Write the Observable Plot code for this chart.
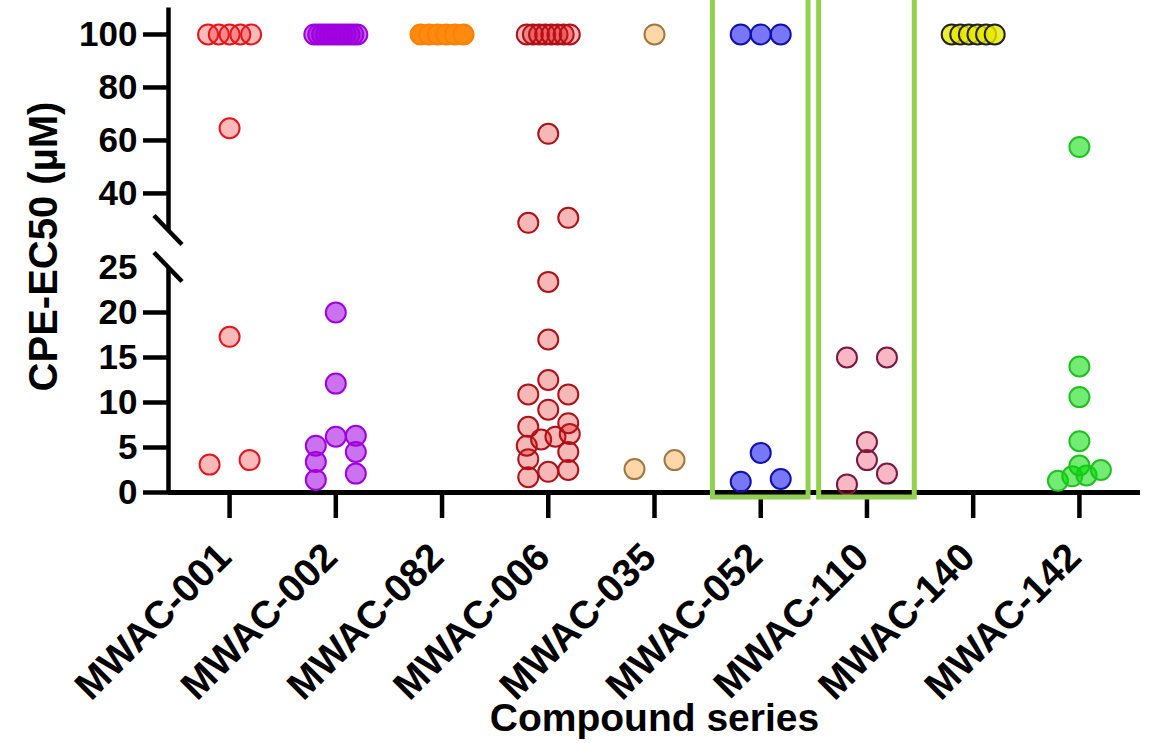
<!DOCTYPE html>
<html>
<head>
<meta charset="utf-8">
<script src="https://cdn.jsdelivr.net/npm/d3@7"></script>
<script src="https://cdn.jsdelivr.net/npm/@observablehq/plot@0.6"></script>
<style>
  body { margin: 0; background: #fff; }
  #chart svg { display: block; }
</style>
</head>
<body>
<div id="chart"></div>
<script>
// ---------- data (µM) ----------
const categories = ["MWAC-001", "MWAC-002", "MWAC-082", "MWAC-006", "MWAC-035", "MWAC-052", "MWAC-110", "MWAC-140", "MWAC-142"];
const mwac001 = [100, 100, 100, 100, 100, 64.6, 17.3, 3.6, 3.1];
const mwac002 = [100, 100, 100, 100, 100, 100, 100, 100, 100, 100, 100, 100, 20.0, 12.1, 6.3, 6.2, 5.2, 4.5, 3.4, 2.1, 1.4];
const mwac082 = [100, 100, 100, 100, 100, 100];
const mwac006 = [100, 100, 100, 100, 100, 100, 100, 100, 62.5, 30.8, 28.9, 23.4, 17.0, 12.5, 10.9, 10.9, 9.2, 7.7, 7.3, 6.5, 6.2, 5.9, 5.2, 4.5, 3.7, 2.5, 2.3, 1.7];
const mwac035 = [100, 3.6, 2.6];
const mwac052 = [100, 100, 100, 4.4, 1.5, 1.2];
const mwac110 = [15.0, 15.0, 5.6, 3.6, 2.1, 0.9];
const mwac140 = [100, 100, 100, 100, 100, 100];
const mwac142 = [57.5, 14.0, 10.6, 5.7, 3.0, 2.5, 1.9, 1.8, 1.3];
const seriesValues = [mwac001, mwac002, mwac082, mwac006, mwac035, mwac052, mwac110, mwac140, mwac142];
const highlighted = ["MWAC-052", "MWAC-110"];
const yTickLabels = [0, 5, 10, 15, 20, 25, 40, 60, 80, 100];
const yTickMarks = [0, 5, 10, 15, 20, 40, 60, 80, 100];
const yLabel = "CPE-EC50 (µM)";
const xLabel = "Compound series";

// ---------- styles ----------
const fills = ["#ee1c1c", "#a000e0", "#ff8a10", "#e01010", "#fb9a2a", "#0000f0", "#e8103a", "#e8e800", "#00dd00"];
const fillOpacities = [0.3, 0.55, 1, 0.3, 0.4, 0.53, 0.3, 0.8, 0.55];
const strokes = ["#e8141c", "#a000e0", "#ff8000", "#b01018", "#a07840", "#1010b0", "#7a1840", "#222222", "#20c020"];

// ---------- layout ----------
const W = 1149, H = 743;
const mL = 168, mR = 9, mT = 0, mB = 251;
const xPad = 0.575;
const yDomain = [0, 25, 26, 110];           // broken axis: 0–25 and 26–110
const yRange = [H - mB, 267, 230, 7.5];
const step = (W - mL - mR) / (categories.length - 1 + 2 * xPad);
const R = 10;

// scatter layout (column scatter): points close in y form a row, spread horizontally
const yPx = d3.scaleLinear().domain(yDomain).range(yRange);
function layout(values) {
  const pts = values.map(v => ({v, py: yPx(v)})).sort((a, b) => a.v - b.v);
  const rows = [];
  for (const p of pts) {
    const row = rows[rows.length - 1];
    if (row && Math.abs(row[0].py - p.py) < 12) row.push(p); else rows.push([p]);
  }
  for (const row of rows) {
    const n = row.length;
    const offs = n === 1 ? [0] : n === 2 ? [-2 * R, 2 * R] : n === 3 ? [-2 * R, 0, 2 * R]
      : d3.range(n).map(i => -21.5 + 43 * i / (n - 1));
    row.forEach((p, i) => p.off = offs[i]);
  }
  return pts;
}

const points = categories.flatMap((c, i) =>
  layout(seriesValues[i]).map(p => ({cat: c, idx: i, value: p.v, pos: i + p.off / step})));

const breakMarks = (index, scales) => {
  const g = d3.create("svg:g");
  const x0 = scales.x(-xPad);
  for (const v of [yDomain[1], yDomain[2]]) {
    const y = scales.y(v);
    g.append("line")
      .attr("x1", x0 - 14).attr("y1", y - 14.5)
      .attr("x2", x0 + 14).attr("y2", y + 14.5)
      .attr("stroke", "black").attr("stroke-width", 4.5);
  }
  return g.node();
};

const chart = Plot.plot({
  width: W, height: H,
  marginLeft: mL, marginRight: mR, marginTop: mT, marginBottom: mB,
  style: {fontFamily: "'Liberation Sans', Arial, sans-serif", fontWeight: "bold", color: "black", background: "white"},
  x: {type: "linear", domain: [-xPad, categories.length - 1 + xPad], axis: null},
  y: {type: "linear", domain: yDomain, range: yRange, axis: null},
  marks: [
    // axis lines
    Plot.ruleY([0], {strokeWidth: 5}),
    Plot.ruleX([{y1: 0, y2: yDomain[1]}, {y1: yDomain[2], y2: yDomain[3]}], {x: () => -xPad, y1: "y1", y2: "y2", strokeWidth: 4.5}),
    breakMarks,
    // y ticks & labels
    Plot.axisY(yTickMarks, {tickSize: 25, strokeWidth: 4.5, tickFormat: () => "", label: null}),
    Plot.axisY(yTickLabels, {tickSize: 0, tickPadding: 31, fontSize: 35, fontWeight: "bold", label: null}),
    // x ticks & labels
    Plot.axisX(d3.range(categories.length), {tickSize: 26, strokeWidth: 4.5, tickFormat: () => "", label: null}),
    Plot.axisX(d3.range(categories.length), {tickSize: 0, tickPadding: 58, tickRotate: -45, dx: -5,
      textAnchor: "end", lineAnchor: "middle",
      tickFormat: i => categories[i], fontSize: 39, fontWeight: "bold", label: null}),
    // axis titles
    Plot.text([xLabel], {text: d => d, frameAnchor: "bottom", dy: 226, fontSize: 39, fontWeight: "bold", lineAnchor: "middle", textAnchor: "middle"}),
    Plot.text([yLabel], {text: d => d, frameAnchor: "left", dx: -124, rotate: -90, fontSize: 40, fontWeight: "bold", textAnchor: "middle", lineAnchor: "middle"}),
    // dots
    ...categories.map((c, i) => Plot.dot(points.filter(p => p.idx === i), {
      x: "pos", y: "value", r: R,
      fill: fills[i], fillOpacity: fillOpacities[i], stroke: strokes[i], strokeWidth: 2
    })),
    // highlight boxes
    Plot.rect(highlighted, {
      x1: d => categories.indexOf(d) - 0.45, x2: d => categories.indexOf(d) + 0.45,
      fill: "none", stroke: "#92d050", strokeWidth: 5, insetTop: -12, insetBottom: -5
    })
  ]
});
document.getElementById("chart").appendChild(chart);
</script>
</body>
</html>
